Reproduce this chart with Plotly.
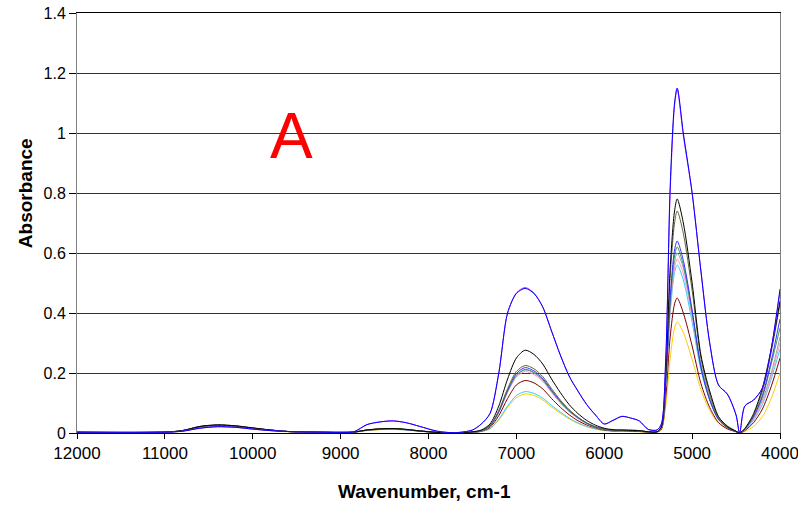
import plotly.graph_objects as go

wavenumber = [12000, 11000, 10800, 10600, 10400, 10200, 10000, 9800, 9600, 9300,
              9000, 8850, 8700, 8550, 8400, 8250, 8100, 7900, 7700,
              7500, 7400, 7300, 7200, 7100, 7000, 6900, 6800, 6700, 6600,
              6500, 6400, 6300, 6200, 6100, 6000, 5900, 5800, 5700, 5600,
              5500, 5400, 5350, 5300, 5250, 5200, 5170, 5100, 5000, 4900,
              4800, 4700, 4600, 4500, 4460, 4400, 4300, 4200, 4100, 4000]

x_ticks = [12000, 11000, 10000, 9000, 8000, 7000, 6000, 5000, 4000]
x_tick_labels = ["12000", "11000", "10000", "9000", "8000", "7000", "6000", "5000", "4000"]
y_ticks = [0, 0.2, 0.4, 0.6, 0.8, 1.0, 1.2, 1.4]
y_tick_labels = ["0", "0.2", "0.4", "0.6", "0.8", "1", "1.2", "1.4"]

s_yellow = [0.002, 0.002, 0.006, 0.017, 0.021, 0.019, 0.014, 0.008, 0.004, 0.003, 0.002, 0.003, 0.008, 0.011, 0.012, 0.01, 0.006, 0.002, 0.0,
            0.002, 0.005, 0.014, 0.043, 0.085, 0.118, 0.13, 0.125, 0.11, 0.087,
            0.066, 0.047, 0.032, 0.021, 0.013, 0.008, 0.006, 0.006, 0.005, 0.004,
            0.002, 0.003, 0.01, 0.09, 0.25, 0.35, 0.37, 0.335, 0.245, 0.145,
            0.075, 0.033, 0.014, 0.004, 0.0, 0.005, 0.022, 0.055, 0.115, 0.2]
s_cyan = [0.003, 0.002, 0.007, 0.019, 0.023, 0.021, 0.015, 0.009, 0.005, 0.003, 0.002, 0.003, 0.009, 0.012, 0.012, 0.01, 0.006, 0.002, 0.0,
          0.002, 0.005, 0.015, 0.046, 0.09, 0.125, 0.138, 0.132, 0.116, 0.092,
          0.07, 0.05, 0.034, 0.022, 0.014, 0.009, 0.007, 0.008, 0.008, 0.006,
          0.003, 0.003, 0.015, 0.15, 0.4, 0.535, 0.56, 0.51, 0.37, 0.21,
          0.11, 0.046, 0.02, 0.005, 0.0, 0.01, 0.043, 0.095, 0.18, 0.28]
s_darkred = [0.002, 0.003, 0.007, 0.02, 0.025, 0.022, 0.016, 0.009, 0.005, 0.003, 0.002, 0.003, 0.009, 0.012, 0.013, 0.011, 0.006, 0.002, 0.0,
             0.002, 0.006, 0.019, 0.058, 0.115, 0.16, 0.175, 0.167, 0.147, 0.115,
             0.086, 0.061, 0.041, 0.027, 0.017, 0.01, 0.007, 0.007, 0.006, 0.005,
             0.003, 0.003, 0.013, 0.12, 0.32, 0.43, 0.45, 0.4, 0.29, 0.165,
             0.085, 0.035, 0.014, 0.004, 0.0, 0.008, 0.035, 0.08, 0.155, 0.25]
s_pink = [0.003, 0.003, 0.007, 0.02, 0.025, 0.022, 0.016, 0.01, 0.005, 0.003, 0.002, 0.003, 0.01, 0.013, 0.014, 0.011, 0.007, 0.002, 0.0,
          0.003, 0.008, 0.022, 0.068, 0.135, 0.186, 0.205, 0.195, 0.172, 0.135,
          0.1, 0.071, 0.048, 0.031, 0.019, 0.012, 0.009, 0.009, 0.009, 0.008,
          0.004, 0.004, 0.016, 0.155, 0.41, 0.55, 0.58, 0.53, 0.385, 0.22,
          0.115, 0.048, 0.022, 0.006, 0.0, 0.011, 0.046, 0.1, 0.19, 0.3]
s_gray = [0.002, 0.003, 0.008, 0.021, 0.026, 0.023, 0.016, 0.01, 0.005, 0.003, 0.002, 0.003, 0.01, 0.013, 0.014, 0.011, 0.007, 0.002, 0.0,
          0.003, 0.008, 0.023, 0.07, 0.138, 0.19, 0.21, 0.2, 0.176, 0.138,
          0.103, 0.073, 0.05, 0.032, 0.02, 0.012, 0.009, 0.009, 0.01, 0.008,
          0.004, 0.004, 0.017, 0.16, 0.42, 0.57, 0.6, 0.55, 0.4, 0.23,
          0.12, 0.05, 0.025, 0.006, 0.0, 0.012, 0.05, 0.11, 0.2, 0.32]
s_teal = [0.002, 0.003, 0.008, 0.021, 0.026, 0.023, 0.016, 0.01, 0.005, 0.003, 0.002, 0.003, 0.01, 0.013, 0.014, 0.011, 0.007, 0.002, 0.0,
          0.003, 0.008, 0.024, 0.071, 0.14, 0.193, 0.212, 0.202, 0.178, 0.14,
          0.105, 0.074, 0.051, 0.033, 0.02, 0.012, 0.009, 0.009, 0.009, 0.007,
          0.004, 0.004, 0.018, 0.165, 0.44, 0.59, 0.62, 0.56, 0.4, 0.22,
          0.112, 0.046, 0.019, 0.005, 0.0, 0.013, 0.055, 0.12, 0.23, 0.35]
s_blue2 = [0.003, 0.003, 0.008, 0.021, 0.026, 0.023, 0.016, 0.01, 0.005, 0.003, 0.002, 0.003, 0.01, 0.013, 0.014, 0.011, 0.007, 0.002, 0.0,
           0.003, 0.008, 0.024, 0.072, 0.143, 0.198, 0.218, 0.207, 0.182, 0.143,
           0.107, 0.075, 0.052, 0.033, 0.02, 0.013, 0.009, 0.009, 0.008, 0.007,
           0.004, 0.004, 0.018, 0.17, 0.45, 0.61, 0.64, 0.575, 0.41, 0.22,
           0.11, 0.045, 0.018, 0.005, 0.0, 0.013, 0.055, 0.125, 0.24, 0.38]
s_olive = [0.002, 0.003, 0.008, 0.022, 0.027, 0.024, 0.017, 0.01, 0.005, 0.003, 0.002, 0.003, 0.01, 0.014, 0.015, 0.012, 0.007, 0.002, 0.0,
           0.003, 0.008, 0.025, 0.075, 0.148, 0.205, 0.225, 0.214, 0.188, 0.148,
           0.11, 0.078, 0.053, 0.034, 0.021, 0.013, 0.009, 0.009, 0.008, 0.007,
           0.004, 0.004, 0.02, 0.19, 0.52, 0.7, 0.74, 0.665, 0.475, 0.25,
           0.13, 0.05, 0.02, 0.005, 0.0, 0.014, 0.06, 0.14, 0.27, 0.43]
s_black = [0.002, 0.003, 0.008, 0.022, 0.027, 0.024, 0.017, 0.01, 0.005, 0.003, 0.002, 0.003, 0.01, 0.014, 0.015, 0.012, 0.007, 0.002, 0.0,
           0.004, 0.01, 0.03, 0.09, 0.18, 0.25, 0.276, 0.262, 0.23, 0.18,
           0.135, 0.095, 0.065, 0.042, 0.026, 0.016, 0.011, 0.01, 0.009, 0.008,
           0.004, 0.004, 0.02, 0.2, 0.55, 0.74, 0.78, 0.7, 0.5, 0.26,
           0.14, 0.055, 0.022, 0.006, 0.0, 0.015, 0.065, 0.15, 0.28, 0.44]
s_magenta = [0.003, 0.003, 0.006, 0.016, 0.021, 0.019, 0.013, 0.008, 0.005, 0.003, 0.002, 0.004, 0.028, 0.037, 0.041, 0.034, 0.022, 0.006, 0.001,
             0.01, 0.03, 0.065, 0.2, 0.4, 0.467, 0.485, 0.467, 0.42, 0.34,
             0.26, 0.19, 0.14, 0.095, 0.06, 0.03, 0.043, 0.056, 0.05, 0.04,
             0.012, 0.01, 0.03, 0.24, 0.8, 1.09, 1.145, 0.99, 0.8, 0.54,
             0.3, 0.16, 0.13, 0.06, 0.0, 0.09, 0.11, 0.15, 0.28, 0.47]
s_blue = [0.003, 0.003, 0.006, 0.016, 0.021, 0.019, 0.013, 0.008, 0.005, 0.003, 0.002, 0.004, 0.028, 0.037, 0.04, 0.034, 0.022, 0.006, 0.001,
          0.01, 0.03, 0.065, 0.2, 0.4, 0.465, 0.482, 0.465, 0.42, 0.34,
          0.26, 0.19, 0.14, 0.095, 0.06, 0.03, 0.042, 0.055, 0.05, 0.04,
          0.012, 0.01, 0.03, 0.25, 0.82, 1.1, 1.15, 1.0, 0.8, 0.54,
          0.3, 0.16, 0.13, 0.06, 0.0, 0.09, 0.11, 0.15, 0.28, 0.48]

series = [
    ("yellow", s_yellow, "#FFCC00"),
    ("cyan", s_cyan, "#33CCFF"),
    ("darkred", s_darkred, "#800000"),
    ("pink", s_pink, "#FF99CC"),
    ("gray", s_gray, "#A0A0A0"),
    ("teal", s_teal, "#339966"),
    ("blue2", s_blue2, "#3333FF"),
    ("olive", s_olive, "#666633"),
    ("black", s_black, "#000000"),
    ("magenta", s_magenta, "#CC33FF"),
    ("blue", s_blue, "#0000FF"),
]

fig = go.Figure()
for name, ys, col in series:
    assert len(ys) == len(wavenumber), name
    fig.add_trace(go.Scatter(x=wavenumber, y=ys, mode="lines", name=name,
                             line=dict(color=col, width=1, shape="spline", smoothing=0.8)))

font = "Liberation Sans, Arial, sans-serif"
fig.update_layout(
    width=798, height=505,
    margin=dict(l=77, r=18, t=13, b=72),
    paper_bgcolor="white", plot_bgcolor="white",
    showlegend=False,
    font=dict(family=font, color="black"),
    xaxis=dict(range=[12000, 4000], tickvals=x_ticks, ticktext=x_tick_labels,
               showgrid=False, zeroline=False, automargin=False,
               ticklabeloverflow="allow",
               showline=True, linecolor="black", linewidth=1, mirror=True,
               ticks="outside", ticklen=5, tickcolor="black",
               tickfont=dict(size=17, family=font)),
    yaxis=dict(range=[0, 1.4], tickvals=y_ticks, ticktext=y_tick_labels,
               showgrid=True, gridcolor="#333333", gridwidth=1, zeroline=False,
               automargin=False, ticklabeloverflow="allow",
               showline=True, linecolor="#808080", linewidth=1, mirror=True,
               ticks="outside", ticklen=7, tickcolor="black",
               tickfont=dict(size=16, family=font)),
    annotations=[
        dict(text="<b>Wavenumber, cm-1</b>", xref="paper", yref="paper",
             x=0.495, y=-0.14, xanchor="center", yanchor="middle", showarrow=False,
             font=dict(size=19, family=font, color="black")),
        dict(text="<b>Absorbance</b>", xref="paper", yref="paper", textangle=-90,
             x=-0.074, y=0.571, xanchor="center", yanchor="middle", showarrow=False,
             font=dict(size=19, family=font, color="black")),
        dict(text="A", xref="paper", yref="paper",
             x=0.305, y=0.706, xanchor="center", yanchor="middle", showarrow=False,
             font=dict(size=64, family=font, color="#FF0000")),
    ],
)

fig.write_html("out.html",
               config={"displayModeBar": False},
               post_script="document.body.style.margin='0px';document.body.style.overflow='hidden';")
